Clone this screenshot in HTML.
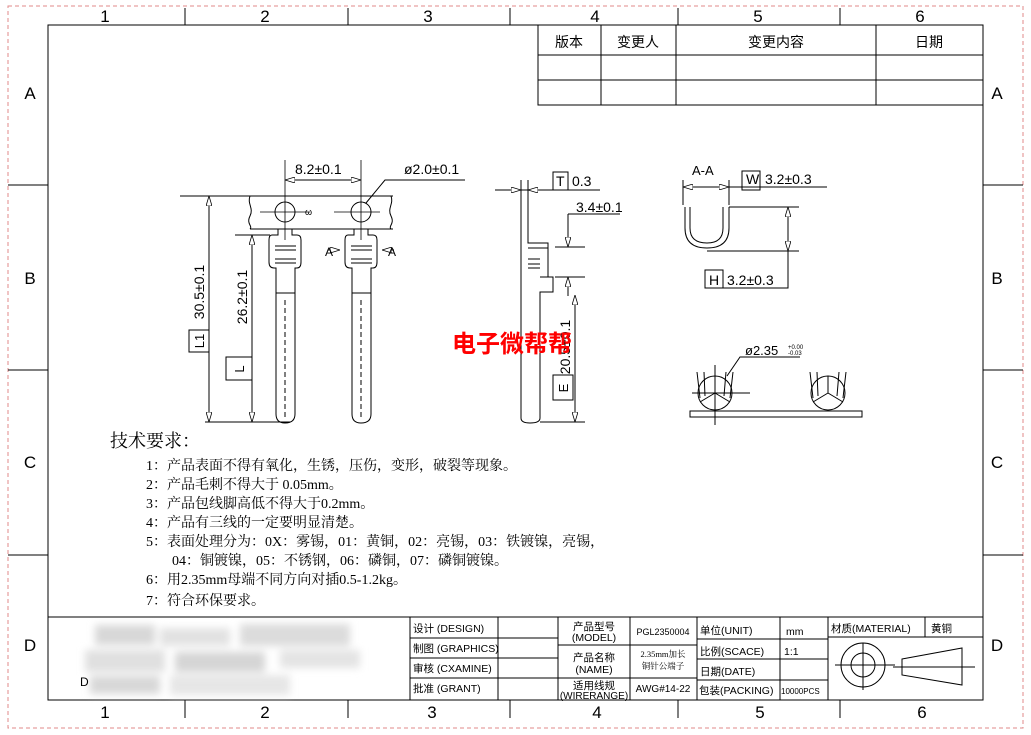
<!DOCTYPE html>
<html><head><meta charset="utf-8"><style>
html,body{margin:0;padding:0;background:#fff}
svg{display:block}
text{font-family:"Liberation Sans","Noto Sans CJK SC",sans-serif;fill:#000}
text.s,.s text{font-family:"Liberation Serif","Noto Serif CJK SC",serif}
</style></head><body>
<svg width="1031" height="735" viewBox="0 0 1031 735" xmlns="http://www.w3.org/2000/svg">
<defs>
<marker id="ar" viewBox="0 0 10 6" refX="10" refY="3" markerWidth="10" markerHeight="6" orient="auto-start-reverse" markerUnits="userSpaceOnUse"><path d="M0,0L10,3L0,6z" fill="#fff" stroke="#000" stroke-width="0.8"/></marker>
<filter id="bl"><feGaussianBlur stdDeviation="4"/></filter>
</defs>
<rect x="8" y="6" width="1015" height="722" fill="none" stroke="#e08a8a" stroke-width="1" stroke-dasharray="4,3"/>
<g stroke="#000" stroke-width="1" fill="none">
<rect x="48" y="25" width="935" height="675"/>
<path d="M185,8V25M348,8V25M510,8V25M678,8V25M840,8V25M185,700V718M348,700V718M510,700V718M678,700V718M840,700V718M8,185H48M8,370H48M8,555H48M983,185H1023M983,370H1023M983,555H1023"/>
<rect x="538" y="25" width="445" height="80"/>
<path d="M538,55H983M538,80H983M601,25V105M676,25V105M876,25V105"/>
<path d="M48,617H983M410,617V700M498,617V700M558,617V700M630,617V700M697,617V700M780,617V700M828,617V700M925,617V637M410,638H558M410,658H558M410,678H558M558,645H697M558,678H697M697,639H828M697,659H828M697,680H828M828,637H983"/>
<circle cx="863" cy="665" r="22"/><circle cx="863" cy="665" r="12"/><path d="M835,665H895M863,643V690M902,659L962,648V685L902,675ZM893,667H975"/>
</g>
<g filter="url(#bl)">
<rect x="95" y="625" width="60" height="20" fill="#d8d8d8"/><rect x="160" y="628" width="70" height="18" fill="#e2e2e2"/><rect x="240" y="624" width="110" height="22" fill="#dcdcdc"/>
<rect x="85" y="650" width="80" height="22" fill="#e0e0e0"/><rect x="175" y="652" width="90" height="20" fill="#d5d5d5"/><rect x="280" y="650" width="80" height="18" fill="#e4e4e4"/>
<rect x="90" y="676" width="70" height="18" fill="#d8d8d8"/><rect x="170" y="675" width="120" height="20" fill="#e6e6e6"/>
</g>
<text x="80" y="686" font-size="12">D</text>
<g font-size="17" text-anchor="middle">
<text x="105" y="22">1</text><text x="265" y="22">2</text><text x="428" y="22">3</text><text x="595" y="22">4</text><text x="758" y="22">5</text><text x="920" y="22">6</text>
<text x="105" y="718">1</text><text x="265" y="718">2</text><text x="432" y="718">3</text><text x="597" y="718">4</text><text x="760" y="718">5</text><text x="922" y="718">6</text>
<text x="30" y="99">A</text><text x="30" y="284">B</text><text x="30" y="468">C</text><text x="30" y="651">D</text>
<text x="997" y="99">A</text><text x="997" y="284">B</text><text x="997" y="468">C</text><text x="997" y="651">D</text>
</g>
<g font-size="14" text-anchor="middle">
<text x="569" y="47">版本</text><text x="638" y="47">变更人</text><text x="776" y="47">变更内容</text><text x="929" y="47">日期</text>
</g>
<g font-size="10.5">
<text x="413" y="632">设计 (DESIGN)</text><text x="413" y="652">制图 (GRAPHICS)</text><text x="413" y="672">审核 (CXAMINE)</text><text x="413" y="692">批准 (GRANT)</text>
<text x="594" y="630" text-anchor="middle">产品型号</text><text x="594" y="641" text-anchor="middle">(MODEL)</text>
<text x="594" y="661" text-anchor="middle">产品名称</text><text x="594" y="673" text-anchor="middle">(NAME)</text>
<text x="594" y="689" text-anchor="middle">适用线规</text><text x="594" y="699" text-anchor="middle" font-size="10">(WIRERANGE)</text>
<text x="663" y="635" text-anchor="middle" font-size="9">PGL2350004</text>
<text x="663" y="657" text-anchor="middle" font-size="8.5" class="s">2.35mm加长</text><text x="663" y="669" text-anchor="middle" font-size="8.5" class="s">铜针公端子</text>
<text x="663" y="692" text-anchor="middle" font-size="10">AWG#14-22</text>
<text x="700" y="634">单位(UNIT)</text><text x="700" y="655">比例(SCACE)</text><text x="700" y="675">日期(DATE)</text><text x="699" y="694">包装(PACKING)</text>
<text x="786" y="635">mm</text><text x="784" y="655">1:1</text><text x="781" y="694" font-size="8">10000PCS</text>
<text x="831" y="632">材质(MATERIAL)</text><text x="931" y="632">黄铜</text>
</g>
<g stroke="#000" stroke-width="1" fill="none">
<path d="M250,196H393M250,229H393"/>
<path d="M250,196c-3,8 4,12 0,20c-4,8 3,10 0,13"/>
<path d="M391,196c3,8 -4,12 0,20c4,8 -3,10 0,13"/>
<circle cx="285" cy="212" r="10"/><circle cx="361" cy="212" r="10"/>
<path d="M260,212H310M334,212H380M285,160V240M361,160V240" stroke-width="0.8"/>
<g id="pin">
<path d="M278,229V235H272Q269,235 269,240V262Q269,268 274,268H276V414Q276,423 285,423Q295,423 295,414V268H297Q301,268 301,262V240Q301,235 297,235H292V229"/>
<path d="M275,246H296M275,250H296M275,259H296M275,263H296M276,293H295"/>
<path d="M285,300V420" stroke-dasharray="5,3"/>
</g>
<use href="#pin" x="76"/>
<path d="M285,180H361" marker-start="url(#ar)" marker-end="url(#ar)"/>
<path d="M366,203L385,180H465"/>
<path d="M180,196H250"/>
<path d="M209,196V422" marker-start="url(#ar)" marker-end="url(#ar)"/>
<path d="M235,235H270"/>
<path d="M252,235V422" marker-start="url(#ar)" marker-end="url(#ar)"/>
<path d="M205,422H290"/>
<rect x="189" y="330" width="20" height="22"/><rect x="226" y="357" width="26" height="23"/>
<path d="M328,250H340" marker-end="url(#ar)"/><path d="M394,250H382" marker-end="url(#ar)"/>
<path d="M521,180V418Q521,423 530,423Q540,423 540,418V292H553V277H540M528,180V243H548V277M528,248H548M528,259H540M528,264H540M528,268H540"/>
<path d="M495,190H600"/>
<path d="M505,190H521" marker-end="url(#ar)"/><path d="M545,190H528" marker-end="url(#ar)"/>
<path d="M568,214H620"/>
<path d="M568,214V247" marker-end="url(#ar)"/>
<path d="M555,247H585M555,277H585"/>
<path d="M568,296V277" marker-end="url(#ar)"/>
<path d="M575,295V422" marker-start="url(#ar)" marker-end="url(#ar)"/>
<path d="M540,422H585"/>
<rect x="553" y="172" width="15" height="18"/><rect x="553" y="375" width="20" height="25"/>
<path d="M683,180V205M729,180V205"/>
<path d="M683,187H729" marker-start="url(#ar)" marker-end="url(#ar)"/>
<path d="M729,187H827"/>
<path d="M685,207V228Q685,248 707,248Q729,248 729,228V207M690,207V228Q690,243 707,243Q723,243 723,228V207"/>
<path d="M729,207H799M707,251H799"/>
<path d="M788,207V251" marker-start="url(#ar)" marker-end="url(#ar)"/>
<path d="M788,251V288H723"/>
<rect x="742" y="171" width="18" height="19"/><rect x="705" y="270" width="18" height="18"/>
<rect x="690" y="411" width="172" height="6"/>
<circle cx="715" cy="393" r="17"/><circle cx="828" cy="393" r="17"/>
<path d="M715,393V376M715,393L700,402M715,393L730,402M828,393V376M828,393L813,402M828,393L843,402"/>
<path d="M697,372L700,398M704,372L705,396M733,372L730,398M726,372L724,396M810,372L813,398M817,372L818,396M846,372L843,398M839,372L837,396"/>
<path d="M692,393H750M715,365V425"/>
<path d="M800,357H740L727,376"/>
</g>
<g font-size="14">
<text x="295" y="174">8.2±0.1</text><text x="404" y="174">ø2.0±0.1</text>
<text x="572" y="186">0.3</text><text x="556" y="186">T</text>
<text x="576" y="212">3.4±0.1</text>
<text x="765" y="184">3.2±0.3</text><text x="746" y="184">W</text>
<text x="727" y="285">3.2±0.3</text><text x="709" y="285">H</text>
<text x="692" y="175" font-size="13">A-A</text>
<text x="745" y="355" font-size="13">ø2.35</text><text x="788" y="349" font-size="6">+0.00</text><text x="788" y="355" font-size="6">-0.03</text>
<text x="325" y="256" font-size="12">A</text><text x="388" y="256" font-size="12">A</text>
<text x="305" y="215" font-size="9">ω</text>
<text transform="translate(204,292) rotate(-90)" text-anchor="middle">30.5±0.1</text>
<text transform="translate(247,297) rotate(-90)" text-anchor="middle">26.2±0.1</text>
<text transform="translate(204,341) rotate(-90)" text-anchor="middle" font-size="13">L1</text>
<text transform="translate(244,369) rotate(-90)" text-anchor="middle" font-size="13">L</text>
<text transform="translate(570,347) rotate(-90)" text-anchor="middle">20.5±0.1</text>
<text transform="translate(568,388) rotate(-90)" text-anchor="middle" font-size="13">E</text>
</g>
<text x="452" y="352" font-size="24" font-weight="bold" style="fill:#f00">电子微帮帮</text>
<g class="s" font-size="14">
<text x="110" y="447" font-size="18">技术要求：</text>
<text x="146" y="470">1：产品表面不得有氧化，生锈，压伤，变形，破裂等现象。</text>
<text x="146" y="489">2：产品毛刺不得大于 0.05mm。</text>
<text x="146" y="508">3：产品包线脚高低不得大于0.2mm。</text>
<text x="146" y="527">4：产品有三线的一定要明显清楚。</text>
<text x="146" y="546">5：表面处理分为：0X：雾锡，01：黄铜，02：亮锡，03：铁镀镍，亮锡，</text>
<text x="172" y="565">04：铜镀镍，05：不锈钢，06：磷铜，07：磷铜镀镍。</text>
<text x="146" y="584">6：用2.35mm母端不同方向对插0.5-1.2kg。</text>
<text x="146" y="605">7：符合环保要求。</text>
</g>
</svg>
</body></html>
